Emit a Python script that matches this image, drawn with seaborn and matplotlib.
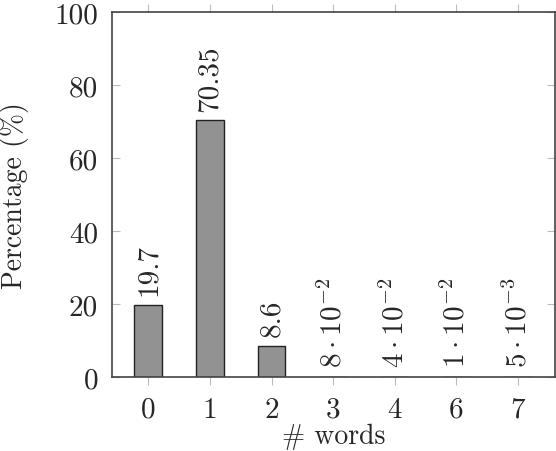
import matplotlib
matplotlib.use("Agg")
import matplotlib.pyplot as plt
import seaborn as sns
import pandas as pd

categories = ["0", "1", "2", "3", "4", "6", "7"]
values = [19.7, 70.35, 8.6, 0.08, 0.04, 0.01, 0.005]
bar_labels = ["19.7", "70.35", "8.6", r"$8\cdot10^{-2}$", r"$4\cdot10^{-2}$",
              r"$1\cdot10^{-2}$", r"$5\cdot10^{-3}$"]
y_ticks = [0, 20, 40, 60, 80, 100]

sns.set_style("white")
plt.rcParams["font.family"] = ["serif"]
plt.rcParams["font.serif"] = ["cmr10", "DejaVu Serif"]
plt.rcParams["mathtext.fontset"] = "cm"
plt.rcParams["axes.formatter.use_mathtext"] = True

FS = 21

df = pd.DataFrame({"words": categories, "pct": values})

fig = plt.figure(figsize=(5.56, 4.52), dpi=100)
ax = fig.add_axes([112/556, 1-378/452, (555-112)/556, (378-13)/452])
sns.barplot(data=df, x="words", y="pct", order=categories, color="#929292",
            width=0.45, edgecolor="#222222", linewidth=1.0, saturation=1, ax=ax)

for i, (v, lab) in enumerate(zip(values, bar_labels)):
    ax.annotate(lab, (i, v), xytext=(0, 7), textcoords="offset points",
                rotation=90, ha="center", va="bottom", fontsize=FS)

ax.set_ylim(0, 100)
ax.set_xlim(-0.59, 6.6)
ax.set_yticks(y_ticks)
ax.set_yticklabels([str(t) for t in y_ticks])
ax.set_xlabel("# words", fontsize=20, labelpad=0)
ax.set_ylabel("Percentage (%)", fontsize=20, labelpad=18)
ax.tick_params(axis="x", direction="out", top=True, bottom=True, length=6,
               color="#bbbbbb", labelsize=FS, pad=8)
ax.tick_params(axis="y", direction="in", left=True, right=True, length=6,
               color="#bbbbbb", labelsize=FS, pad=10)
for s in ax.spines.values():
    s.set_color("#444444")
    s.set_linewidth(1.2)

fig.savefig("out.png", dpi=100)
